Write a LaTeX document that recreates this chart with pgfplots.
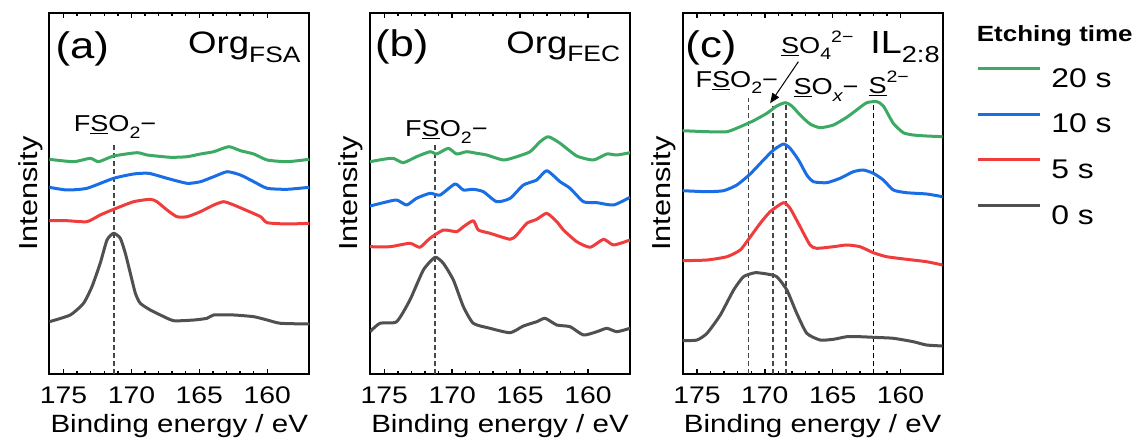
\documentclass[border=0pt]{standalone}
\usepackage{fontspec}
\setmainfont{Liberation Sans}[FakeStretch=1.18]
\usepackage{pgfplots}
\pgfplotsset{compat=1.18}
\usetikzlibrary{arrows.meta}

\definecolor{cg}{RGB}{60,170,100}
\definecolor{cb}{RGB}{25,110,230}
\definecolor{cr}{RGB}{240,60,60}
\definecolor{ck}{RGB}{80,80,80}
\definecolor{dlc}{RGB}{70,70,70}

\newcommand{\fs}[1]{\fontsize{#1}{#1}\selectfont}
\newcommand{\sub}[1]{\raisebox{-0.28em}{\scalebox{0.72}{#1}}}
\newcommand{\sups}[1]{\raisebox{0.45em}{\scalebox{0.72}{#1}}}

\pgfplotsset{
 panel/.style={
  scale only axis, width=260pt, height=361pt,
  anchor=south west,
  x dir=reverse, xmin=156.9, xmax=176.05, ymin=0, ymax=361,
  xtick={160,165,170,175}, minor x tick num=4, ytick=\empty,
  axis line style={line width=2pt},
  every tick/.style={black, line width=1.4pt},
  major tick length=5.5pt, minor tick length=3.5pt,
  /pgf/number format/assume math mode=true,
  xticklabel style={font=\fs{24}, anchor=base, yshift=-29pt, inner sep=0pt},
  xlabel={Binding energy / eV},
  xlabel style={font=\fs{25}, at={(rel axis cs:0.5,-0.163)}, anchor=base, inner sep=0pt},
  ylabel={Intensity},
  ylabel style={font=\fs{26}, at={(rel axis cs:-0.047,0.5)}, anchor=base, inner sep=0pt},
  every axis plot/.append style={line width=3pt, line join=round},
 },
 sm/.style={smooth, tension=0.35},
 dl/.style={dlc, line width=1.7pt, dash pattern=on 5pt off 3pt},
}

\begin{document}
\begin{tikzpicture}
\path[use as bounding box] (0,0) rectangle (1141pt,442pt);

% ---------------- (a) ----------------
\begin{axis}[panel, at={(49.3pt,68pt)}]
\addplot[dl] coordinates {(171.31,0) (171.31,231.3)};
\addplot[cg, sm] coordinates {(176.05,214.7) (174.26,212.3) (173.03,215.7) (172.42,212.3) (171.31,218) (169.59,221.3) (168.85,219) (167.13,216.7) (165.90,217.3) (164.92,220) (163.94,222.3) (162.83,227.3) (161.97,223.3) (160.99,220) (160.0,214) (158.53,212.3) (156.9,214.7)};
\addplot[cb, sm] coordinates {(176.05,186.7) (174.75,184) (173.28,185.7) (171.31,195.7) (169.84,200) (168.73,200.7) (167.38,195.7) (165.90,190.7) (164.92,192.3) (163.94,197.3) (162.95,202.3) (161.97,199) (160.99,192.3) (160.0,185.7) (158.53,184.7) (156.9,186.7)};
\addplot[cr, sm] coordinates {(176.05,153.3) (174.75,153.3) (173.28,152.3) (172.30,159) (171.31,164.7) (169.84,172.3) (168.61,174.7) (168.12,172.3) (167.38,164) (166.65,157.3) (165.90,157.3) (164.92,162.3) (163.94,169) (163.20,172.3) (162.46,169) (161.48,163.3) (160.49,157.3) (160.0,151.3) (158.53,150) (156.9,150.7)};
\addplot[ck, sm] coordinates {(176.05,52.3) (174.51,59) (173.53,70.7) (172.91,87.3) (172.30,110.7) (171.80,134) (171.31,140.7) (170.82,135.7) (170.45,120.7) (170.08,100.7) (169.71,80.7) (169.35,70.7) (168.61,64) (167.87,59) (166.89,53.3) (165.41,54) (164.43,55.7) (163.94,59) (162.46,59) (160.99,57.3) (160.0,54) (159.02,50.7) (156.9,50)};
\node[anchor=base west, inner sep=0pt, font=\fs{37}] at (axis cs:175.6,315.7) {(a)};
\node[anchor=base east, inner sep=0pt, font=\fs{31}] at (axis cs:157.54,320) {Org\sub{FSA}};
\node[anchor=base west, inner sep=0pt, font=\fs{23}] at (axis cs:174.26,242.3) {F\underline{S}O\sub{2}−};
\end{axis}

% ---------------- (b) ----------------
\begin{axis}[panel, at={(370pt,68pt)}]
\addplot[dl] coordinates {(171.24,0) (171.24,231.3)};
\addplot[cg, sm] coordinates {(176.05,212.3) (175.07,214.7) (174.34,215.7) (173.60,211.3) (172.62,217.3) (171.63,222.3) (171.14,220) (170.28,225.7) (169.67,220) (168.93,222.3) (168.19,220.7) (167.45,219) (166.22,214) (165.24,217.3) (164.26,222.3) (163.52,232.3) (162.91,237.3) (162.05,230.7) (160.82,218) (159.59,214) (158.61,220) (157.87,219) (156.9,221.3)};
\addplot[cb, sm] coordinates {(176.05,168) (175.07,171.3) (174.09,174) (173.35,169) (172.62,175.7) (171.63,180.7) (170.89,179) (169.79,190) (169.17,184) (168.44,184.7) (167.70,182.3) (166.72,172.3) (165.73,175.7) (164.75,189) (163.77,194) (163.03,203.3) (162.05,192.3) (161.31,185.7) (160.33,172.3) (159.34,171.3) (158.11,169) (156.9,176.7)};
\addplot[cr, sm] coordinates {(176.05,127.3) (174.58,127.3) (173.11,130.7) (172.37,126.7) (171.63,135.7) (170.65,144) (169.67,142.3) (169.17,147.3) (168.44,153.3) (168.07,144) (167.21,140.7) (165.73,134.7) (165.24,139) (164.50,150.7) (163.77,154.7) (163.03,160.7) (162.29,152.3) (161.80,144) (160.82,132.3) (159.83,126.7) (158.85,134.7) (158.11,129) (156.9,134)};
\addplot[ck, sm] coordinates {(176.05,42.3) (175.32,50.7) (174.09,52.3) (173.11,74) (172.12,104) (171.26,116.7) (170.65,110.7) (169.91,94) (169.17,67.3) (168.44,50.7) (167.21,45.7) (165.73,41.3) (164.75,48) (163.77,52.3) (163.15,55.7) (162.29,49) (161.31,47.3) (160.33,39) (159.34,42.3) (158.61,45.7) (157.87,42.3) (156.9,45.7)};
\node[anchor=base west, inner sep=0pt, font=\fs{37}] at (axis cs:175.69,317.3) {(b)};
\node[anchor=base east, inner sep=0pt, font=\fs{31}] at (axis cs:157.62,320.7) {Org\sub{FEC}};
\node[anchor=base west, inner sep=0pt, font=\fs{23}] at (axis cs:173.48,237.3) {F\underline{S}O\sub{2}−};
\end{axis}

% ---------------- (c) ----------------
\begin{axis}[panel, at={(682.7pt,68pt)},
  legend style={at={(1.1286,0.851)}, anchor=north west, draw=none, fill=none,
    inner sep=0pt, font=\fs{27}, row sep=24pt, column sep=10pt,
    nodes={inner sep=0pt}},
  legend cell align=left,
  legend image code/.code={\draw[#1, line width=3pt] (0pt,10pt) -- (62pt,10pt);},
]
\addplot[dl, forget plot] coordinates {(171.20,0) (171.20,275.7)};
\addplot[dl, forget plot] coordinates {(169.41,0) (169.41,268)};
\addplot[dl, forget plot] coordinates {(168.46,0) (168.46,270)};
\addplot[black, line width=1.6pt, dash pattern=on 5pt off 3pt, forget plot] coordinates {(162.01,0) (162.01,272.3)};
\addplot[cg, sm] coordinates {(176.05,243.3) (174.26,242.3) (172.79,242.3) (171.81,247.3) (170.83,253.3) (169.85,260.7) (169.12,268) (168.50,271.3) (168.01,268) (167.40,259) (166.67,250) (165.93,246.3) (164.95,249) (163.97,256.7) (163.24,264) (162.50,271.3) (161.76,272.3) (161.27,268) (160.54,250.7) (159.80,241.3) (159.07,239) (158.09,238) (156.9,237.3)};
\addlegendentry{20 s}
\addplot[cb, sm] coordinates {(176.05,183.3) (174.26,182.3) (173.04,183.3) (172.06,189) (171.08,200) (170.10,214) (169.36,224) (168.63,230) (168.14,225.7) (167.52,214) (166.91,199) (166.42,192.3) (165.44,191.3) (164.46,195.7) (163.48,202.3) (162.75,204) (162.01,200.7) (161.27,194) (160.54,184) (159.56,181.3) (158.09,180) (156.9,177.3)};
\addlegendentry{10 s}
\addplot[cr, sm] coordinates {(176.05,113.3) (174.26,114) (172.79,117.3) (171.81,124) (171.20,134.7) (170.34,150.7) (169.61,162.3) (168.63,171.3) (168.14,165.7) (167.40,147.3) (166.67,129) (166.18,125.7) (164.95,127.3) (163.97,129) (162.99,127.3) (162.01,121.3) (161.03,117.3) (159.56,114.7) (158.09,112.3) (156.9,109)};
\addlegendentry{5 s}
\addplot[ck, sm] coordinates {(176.05,33.3) (175.0,34) (174.26,40.7) (173.28,59) (172.30,84) (171.57,97.3) (170.71,101.3) (169.85,100) (169.12,97.3) (168.38,84) (167.65,60.7) (166.91,40.7) (165.93,34) (164.95,34.7) (163.97,37.3) (162.99,37.3) (162.01,36.7) (160.54,35.7) (159.07,32.3) (158.09,29) (156.9,28)};
\addlegendentry{0 s}
\addplot[black, line width=1pt, -{Triangle[length=10pt,width=8pt]}, forget plot] coordinates {(167.53,312.3) (169.61,270.7)};
\node[anchor=base west, inner sep=0pt, font=\fs{37}] at (axis cs:175.86,316.7) {(c)};
\node[anchor=base east, inner sep=0pt, font=\fs{32}] at (axis cs:157.11,320) {IL\sub{2:8}};
\node[anchor=base west, inner sep=0pt, font=\fs{23}] at (axis cs:175.12,286.7) {F\underline{S}O\sub{2}−};
\node[anchor=base west, inner sep=0pt, font=\fs{23}] at (axis cs:168.82,320.7) {\underline{S}O\sub{4}\sups{2−}};
\node[anchor=base west, inner sep=0pt, font=\fs{23}] at (axis cs:167.90,279) {\underline{S}O\sub{\itshape x}−};
\node[anchor=base west, inner sep=0pt, font=\fs{23}] at (axis cs:162.38,280.7) {\underline{S}\sups{2−}};
\end{axis}

\node[anchor=base west, inner sep=0pt, font=\bfseries\fs{22}] at (976.7pt,400.3pt) {Etching time};
\end{tikzpicture}
\end{document}
